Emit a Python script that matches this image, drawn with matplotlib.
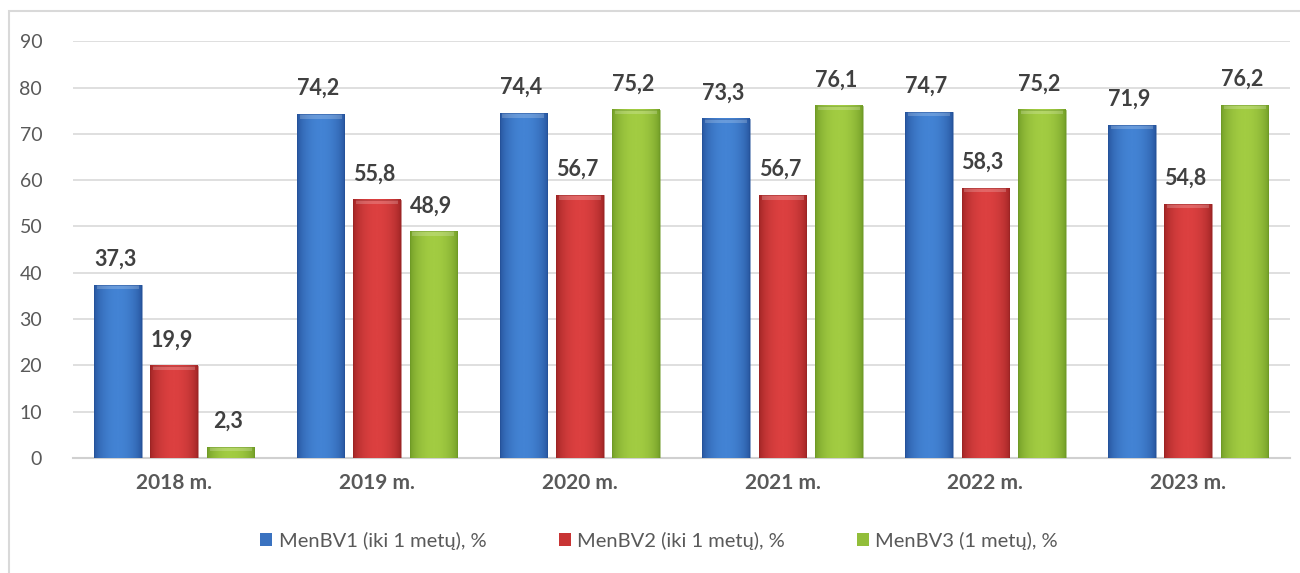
import numpy as np
import matplotlib.pyplot as plt
from matplotlib.colors import LinearSegmentedColormap
from matplotlib.patches import Patch, Rectangle

plt.rcParams['font.family'] = ['Lato', 'DejaVu Sans']

metai = ['2018 m.', '2019 m.', '2020 m.', '2021 m.', '2022 m.', '2023 m.']
menbv1 = [37.3, 74.2, 74.4, 73.3, 74.7, 71.9]
menbv2 = [19.9, 55.8, 56.7, 56.7, 58.3, 54.8]
menbv3 = [2.3, 48.9, 75.2, 76.1, 75.2, 76.2]
pavadinimai = ['MenBV1 (iki 1 metų), %', 'MenBV2 (iki 1 metų), %', 'MenBV3 (1 metų), %']

# (krastas, vidurys) spalvos kiekvienai serijai
spalvos = [('#25529a', '#4383d4'), ('#9c2424', '#dc4040'), ('#6f9a26', '#a2cc42')]
legendos_spalvos = ['#3a72c0', '#c83434', '#92be3a']

fig = plt.figure(figsize=(13, 5.73), dpi=100)
ax = fig.add_axes([0.056, 0.201, 0.936, 0.727])

x = np.arange(len(metai))
plotis = 0.235
tarpas = 0.278
grad = np.linspace(0, 1, 64)
profilis = np.sin(np.pi * grad) ** 0.6


def gradientinis_stulpelis(xc, h, krastas, vidurys):
    cmap = LinearSegmentedColormap.from_list('g', [krastas, vidurys])
    x0, x1 = xc - plotis / 2, xc + plotis / 2
    ax.imshow(profilis[None, :], cmap=cmap, aspect='auto',
              extent=(x0, x1, 0, h), zorder=2, interpolation='bilinear')
    # šviesesnis viršutinis kraštas
    virsus = min(0.9, h * 0.5)
    ax.add_patch(Rectangle((x0 + plotis * 0.06, h - virsus), plotis * 0.88, virsus,
                           facecolor='white', alpha=0.2, lw=0, zorder=3))
    ax.add_patch(Rectangle((x0, 0), plotis, h, facecolor='none',
                           edgecolor=krastas, lw=0.6, alpha=0.6, zorder=3))


for i, reiksmes in enumerate([menbv1, menbv2, menbv3]):
    krastas, vidurys = spalvos[i]
    for j, v in enumerate(reiksmes):
        xc = x[j] + (i - 1) * tarpas
        gradientinis_stulpelis(xc, v, krastas, vidurys)
        ax.annotate(f'{v:.1f}'.replace('.', ','), (xc, v), xytext=(-2, 11),
                    textcoords='offset points', ha='center', va='bottom',
                    fontsize=15.5, fontweight='bold', color='#404040')

ax.set_xlim(-0.5, len(metai) - 0.5)
ax.set_ylim(0, 90)
ax.set_yticks(range(0, 91, 10))
ax.set_xticks(x)
ax.set_xticklabels(metai, fontsize=15, fontweight='bold', color='#595959')
ax.tick_params(axis='y', labelsize=14, labelcolor='#595959', length=0, pad=22)
ax.tick_params(axis='x', length=0, pad=11)
ax.grid(axis='y', color='#d9d9d9', lw=1.2, zorder=0)
ax.set_axisbelow(True)
for s in ['top', 'right', 'left']:
    ax.spines[s].set_visible(False)
ax.spines['bottom'].set_color('#d0d0d0')
ax.spines['bottom'].set_linewidth(1.5)
ax.spines['bottom'].set_zorder(1)

rankenos = [Patch(facecolor=c, edgecolor='none') for c in legendos_spalvos]
fig.legend(rankenos, pavadinimai, loc='center', bbox_to_anchor=(0.507, 0.056),
           ncol=3, frameon=False, fontsize=14.5, labelcolor='#595959',
           handlelength=0.6, handleheight=0.6, handletextpad=0.3, columnspacing=3.6)

# rėmelis aplink diagramą
fig.add_artist(Rectangle((9 / 1300, -0.1), 1.2, 1 - 11 / 573 + 0.1,
                         transform=fig.transFigure, facecolor='none',
                         edgecolor='#d9d9d9', lw=1.5))

fig.savefig('out.png', dpi=100)
